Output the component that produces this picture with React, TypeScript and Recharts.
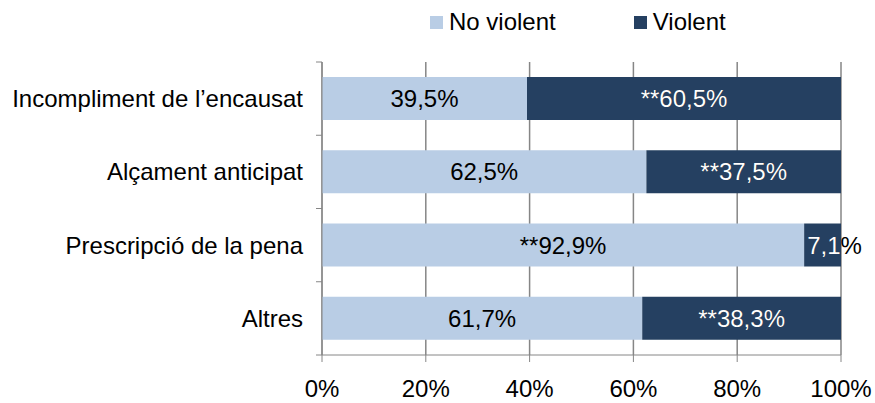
import React from "react";
import {
  BarChart,
  Bar,
  XAxis,
  YAxis,
  CartesianGrid,
  Legend,
  LabelList,
} from "recharts";

const categories = [
  "Incompliment de l’encausat",
  "Alçament anticipat",
  "Prescripció de la pena",
  "Altres",
];
const noViolent = [39.5, 62.5, 92.9, 61.7];
const violent = [60.5, 37.5, 7.1, 38.3];
// ** marks the significant differences
const noViolentSig = [false, false, true, false];
const violentSig = [true, true, false, true];
const xTicks = [0, 20, 40, 60, 80, 100];

const LIGHT = "#B9CDE5";
const DARK = "#254061";
const AXIS = "#868686";
const FONT = "'Liberation Sans', Arial, sans-serif";
const FS = 24;

const data = categories.map((name, i) => ({
  name,
  noViolent: noViolent[i],
  violent: violent[i],
}));

const fmt = (v: number, sig: boolean) =>
  (sig ? "**" : "") + v.toFixed(1).replace(".", ",") + "%";

function makeLabel(sigs: boolean[], white: boolean, key: string) {
  return (props: any) => {
    const { x, y, width, height, value, index } = props;
    const text = fmt(Number(value), sigs[index]);
    const w = Number(width);
    const approxW = text.length * 0.55 * FS;
    // labels that don't fit start just inside the segment
    const fits = approxW < w;
    const tx = fits ? Number(x) + w / 2 : Number(x) + 3;
    const anchor = fits ? "middle" : "start";
    const cy = Number(y) + Number(height) / 2;
    const clipId = `clip-${key}-${index}`;
    return (
      <g>
        <defs>
          <clipPath id={clipId}>
            <rect x={x} y={y} width={width} height={height} />
          </clipPath>
        </defs>
        <text
          x={tx}
          y={cy}
          textAnchor={anchor}
          dominantBaseline="central"
          fontSize={FS}
          fontFamily={FONT}
          fill="#000"
        >
          {text}
        </text>
        {white && (
          <text
            x={tx}
            y={cy}
            textAnchor={anchor}
            dominantBaseline="central"
            fontSize={FS}
            fontFamily={FONT}
            fill="#fff"
            clipPath={`url(#${clipId})`}
          >
            {text}
          </text>
        )}
      </g>
    );
  };
}

const CategoryTick = (props: any) => {
  const { x, y, payload, index } = props;
  const half = payload && payload.offset ? payload.offset : 36.6;
  const axisX = x + 19;
  return (
    <g>
      <text
        x={x}
        y={y}
        textAnchor="end"
        dominantBaseline="central"
        fontSize={FS}
        fontFamily={FONT}
        fill="#000"
      >
        {payload.value}
      </text>
      <line x1={axisX - 6} x2={axisX} y1={y - half} y2={y - half} stroke={AXIS} />
      {index === categories.length - 1 && (
        <line x1={axisX - 6} x2={axisX} y1={y + half} y2={y + half} stroke={AXIS} />
      )}
    </g>
  );
};

const LegendContent = () => (
  <div
    style={{
      display: "flex",
      justifyContent: "flex-start",
      gap: 78,
      fontFamily: FONT,
      fontSize: FS,
      color: "#000",
      lineHeight: "28px",
    }}
  >
    {[
      { label: "No violent", color: LIGHT },
      { label: "Violent", color: DARK },
    ].map((it) => (
      <div key={it.label} style={{ display: "flex", alignItems: "center" }}>
        <span
          style={{
            display: "inline-block",
            width: 13,
            height: 13,
            background: it.color,
            marginRight: 6,
          }}
        />
        <span>{it.label}</span>
      </div>
    ))}
  </div>
);

export default function App() {
  return (
    <div style={{ position: "absolute", left: 0, top: 0, fontFamily: FONT }}>
      <BarChart
        width={875}
        height={403}
        data={data}
        layout="vertical"
        margin={{ top: 62, right: 34, bottom: 0, left: 0 }}
        barSize={43}
      >
        <CartesianGrid horizontal={false} stroke={AXIS} strokeWidth={1.5} />
        <XAxis
          type="number"
          domain={[0, 100]}
          ticks={xTicks}
          tickFormatter={(v: number) => `${v}%`}
          height={48}
          stroke={AXIS}
          tickSize={7}
          tickMargin={18}
          tick={{ fill: "#000", fontSize: FS, fontFamily: FONT }}
          interval={0}
        />
        <YAxis
          type="category"
          dataKey="name"
          width={322}
          stroke={AXIS}
          tickLine={false}
          tickSize={6}
          tickMargin={13}
          tick={<CategoryTick />}
          interval={0}
        />
        <Legend
          verticalAlign="middle"
          align="center"
          layout="horizontal"
          wrapperStyle={{ top: 8, left: 430, width: 420 }}
          content={<LegendContent />}
        />
        <Bar dataKey="noViolent" stackId="a" fill={LIGHT} isAnimationActive={false}>
          <LabelList dataKey="noViolent" content={makeLabel(noViolentSig, false, "nv")} />
        </Bar>
        <Bar dataKey="violent" stackId="a" fill={DARK} isAnimationActive={false}>
          <LabelList dataKey="violent" content={makeLabel(violentSig, true, "v")} />
        </Bar>
      </BarChart>
    </div>
  );
}
